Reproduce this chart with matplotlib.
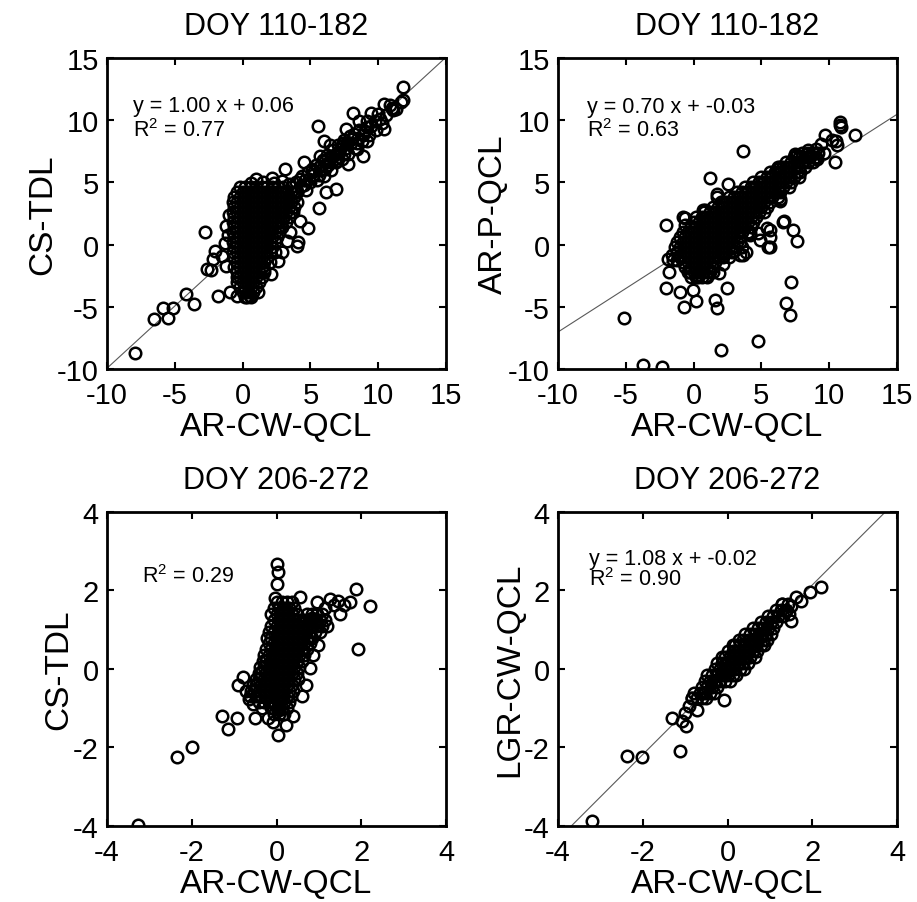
import numpy as np
import matplotlib.pyplot as plt

plt.rcParams['font.family'] = ['Liberation Sans', 'DejaVu Sans']
plt.rcParams['mathtext.fontset'] = 'custom'
plt.rcParams['mathtext.rm'] = 'Liberation Sans'
plt.rcParams['mathtext.it'] = 'Liberation Sans:italic'
plt.rcParams['axes.unicode_minus'] = False

###############################################################################
# panel texts / fits

titles = ['DOY 110-182', 'DOY 110-182', 'DOY 206-272', 'DOY 206-272']
xlabels = ['AR-CW-QCL', 'AR-CW-QCL', 'AR-CW-QCL', 'AR-CW-QCL']
ylabels = ['CS-TDL', 'AR-P-QCL', 'CS-TDL', 'LGR-CW-QCL']
lims = [(-10, 15), (-10, 15), (-4, 4), (-4, 4)]
ticks = [[-10, -5, 0, 5, 10, 15], [-10, -5, 0, 5, 10, 15],
         [-4, -2, 0, 2, 4], [-4, -2, 0, 2, 4]]
slopes = [1.00, 0.70, None, 1.08]
icpts = [0.06, -0.03, None, -0.02]
eqs = ['y = 1.00 x + 0.06', 'y = 0.70 x + -0.03', None, 'y = 1.08 x + -0.02']
r2s = ['R$^2$ = 0.77', 'R$^2$ = 0.63', 'R$^2$ = 0.29', 'R$^2$ = 0.90']

###############################################################################
# DOY 110-182, AR-CW-QCL vs CS-TDL

tl_sparse = [
    (-7.9, -8.7), (-6.5, -6.0), (-5.85, -5.1), (-5.5, -5.9), (-5.1, -5.1), (-4.2, -4.0),
    (-3.6, -4.8), (-1.8, -4.15), (-0.9, -3.8), (0.55, -4.1), (1.15, -3.85), (-0.45, -4.1),
    (0.3, -4.25), (2.1, -2.35), (1.55, -1.95), (-2.8, 1.0), (-2.05, -0.5), (-2.15, -1.15),
    (-2.65, -1.95), (-2.35, -2.05), (-1.2, -1.7), (-1.5, -0.9), (-1.3, 0.1), (-1.1, 0.8),
    (-1.2, 1.5), (-1.0, 2.4), (4.0, -0.1), (4.85, 1.35), (3.5, 1.0), (4.2, 1.9), (5.65, 2.9),
    (6.9, 4.5), (6.15, 4.25), (4.1, 0.2), (3.3, 0.3), (2.9, -0.6), (2.6, -1.3), (3.0, 2.1),
    (3.7, 2.6), (1.0, 5.3), (2.15, 5.35), (3.15, 6.1), (4.5, 6.6), (5.7, 7.15), (5.55, 9.55),
    (6.0, 8.35), (8.15, 10.6), (8.9, 7.15), (9.15, 8.35), (9.5, 10.55), (10.4, 9.25),
    (10.9, 11.2), (11.85, 11.6), (11.85, 12.7), (10.4, 11.3), (11.1, 10.8), (10.1, 10.1),
    (9.15, 9.45), (7.65, 9.3), (7.4, 8.2), (6.45, 8.0), (6.95, 6.7), (7.8, 6.5), (8.4, 7.7),
    (8.6, 9.9), (9.75, 9.9),
    (4.3, 4.7), (4.7, 4.4), (4.6, 5.2), (5.0, 5.0), (5.2, 5.6), (5.5, 5.2), (5.8, 6.0),
    (6.0, 5.5), (6.3, 6.4), (6.5, 6.0), (6.6, 7.0), (6.9, 6.6), (7.1, 7.4), (7.3, 6.9),
    (7.6, 7.8), (7.8, 7.3), (8.0, 8.2), (8.3, 7.8), (8.5, 8.6), (8.8, 8.3), (9.0, 9.1),
    (9.3, 8.8), (9.5, 9.5), (9.8, 9.2), (10.0, 10.5), (10.3, 9.8), (10.6, 10.4), (11.0, 11.0),
    (11.3, 10.9), (11.7, 11.5), (4.8, 5.8), (5.4, 6.4), (3.9, 5.0), (3.6, 4.6), (6.2, 7.2),
    (7.0, 8.0), (8.2, 8.9), (9.2, 9.9), (7.9, 8.7), (5.9, 6.8), (6.7, 7.6), (7.5, 8.4),
    (5.1, 6.1), (4.4, 5.5), (6.4, 6.6), (7.2, 7.7), (8.6, 9.2),
    (4.0, 4.2), (4.5, 4.8), (4.9, 5.3), (5.3, 5.9), (5.7, 6.3), (6.1, 6.7), (6.5, 7.1),
    (6.9, 7.3), (7.3, 7.9), (7.7, 8.2), (8.1, 8.5), (8.4, 8.2), (8.9, 8.8), (5.6, 5.6),
    (6.1, 6.1), (6.8, 6.9), (7.5, 7.3), (4.2, 5.3), (3.8, 4.2), (3.4, 4.9),
]
tl_core = [
    (0.6, 4.95), (1.5, 5.0), (2.3, 4.95), (2.9, 5.1),
    (-0.2, 4.6), (0.2, 4.6), (0.6, 4.6), (1.0, 4.6), (1.4, 4.6), (1.8, 4.6), (2.2, 4.6),
    (2.6, 4.6), (3.0, 4.6),
    (-0.4, 4.2), (0.0, 4.2), (0.4, 4.2), (0.8, 4.2), (1.2, 4.2), (1.6, 4.2), (2.0, 4.2),
    (2.4, 4.2), (2.8, 4.2), (3.2, 4.2), (3.6, 4.2), (4.0, 4.2),
    (-0.6, 3.8), (-0.2, 3.8), (0.2, 3.8), (0.6, 3.8), (1.0, 3.8), (1.4, 3.8), (1.8, 3.8),
    (2.2, 3.8), (2.6, 3.8), (3.0, 3.8), (3.4, 3.8), (3.8, 3.8),
    (-0.7, 3.4), (-0.4, 3.4), (0.0, 3.4), (0.4, 3.4), (0.8, 3.4), (1.2, 3.4), (1.6, 3.4),
    (2.0, 3.4), (2.4, 3.4), (2.8, 3.4), (3.2, 3.4), (3.6, 3.4), (4.0, 3.4),
    (-0.6, 3.0), (-0.2, 3.0), (0.2, 3.0), (0.6, 3.0), (1.0, 3.0), (1.4, 3.0), (1.8, 3.0),
    (2.2, 3.0), (2.6, 3.0), (3.0, 3.0), (3.4, 3.0), (3.8, 3.0),
    (-0.7, 2.6), (-0.4, 2.6), (0.0, 2.6), (0.4, 2.6), (0.8, 2.6), (1.2, 2.6), (1.6, 2.6),
    (2.0, 2.6), (2.4, 2.6), (2.8, 2.6), (3.2, 2.6), (3.6, 2.6),
    (-0.6, 2.2), (-0.2, 2.2), (0.2, 2.2), (0.6, 2.2), (1.0, 2.2), (1.4, 2.2), (1.8, 2.2),
    (2.2, 2.2), (2.6, 2.2), (3.0, 2.2), (3.4, 2.2),
    (-0.7, 1.8), (-0.4, 1.8), (0.0, 1.8), (0.4, 1.8), (0.8, 1.8), (1.2, 1.8), (1.6, 1.8),
    (2.0, 1.8), (2.4, 1.8), (2.8, 1.8), (3.2, 1.8),
    (-0.6, 1.4), (-0.2, 1.4), (0.2, 1.4), (0.6, 1.4), (1.0, 1.4), (1.4, 1.4), (1.8, 1.4),
    (2.2, 1.4), (2.6, 1.4), (2.9, 1.4),
    (-0.7, 1.0), (-0.4, 1.0), (0.0, 1.0), (0.4, 1.0), (0.8, 1.0), (1.2, 1.0), (1.6, 1.0),
    (2.0, 1.0), (2.4, 1.0), (2.7, 1.0),
    (-0.6, 0.6), (-0.2, 0.6), (0.2, 0.6), (0.6, 0.6), (1.0, 0.6), (1.4, 0.6), (1.8, 0.6),
    (2.2, 0.6), (2.5, 0.6),
    (-0.7, 0.2), (-0.4, 0.2), (0.0, 0.2), (0.4, 0.2), (0.8, 0.2), (1.2, 0.2), (1.6, 0.2),
    (2.0, 0.2), (2.4, 0.2),
    (-0.6, -0.2), (-0.2, -0.2), (0.2, -0.2), (0.6, -0.2), (1.0, -0.2), (1.4, -0.2),
    (1.8, -0.2), (2.2, -0.2),
    (-0.7, -0.6), (-0.4, -0.6), (0.0, -0.6), (0.4, -0.6), (0.8, -0.6), (1.2, -0.6),
    (1.6, -0.6), (2.0, -0.6), (2.4, -0.6),
    (-0.6, -1.0), (-0.2, -1.0), (0.2, -1.0), (0.6, -1.0), (1.0, -1.0), (1.4, -1.0),
    (1.8, -1.0),
    (-0.4, -1.4), (0.0, -1.4), (0.4, -1.4), (0.8, -1.4), (1.2, -1.4), (1.6, -1.4),
    (2.0, -1.4),
    (-0.6, -1.8), (-0.2, -1.8), (0.2, -1.8), (0.6, -1.8), (1.0, -1.8), (1.4, -1.8),
    (-0.4, -2.2), (0.0, -2.2), (0.4, -2.2), (0.8, -2.2), (1.2, -2.2), (1.6, -2.2),
    (-0.45, -2.6), (-0.2, -2.6), (0.2, -2.6), (0.6, -2.6), (1.0, -2.6), (1.4, -2.6),
    (-0.4, -3.0), (0.0, -3.0), (0.4, -3.0), (0.8, -3.0), (1.2, -3.0),
    (-0.2, -3.4), (0.2, -3.4), (0.6, -3.4), (1.0, -3.4),
    (0.0, -3.8), (0.4, -3.8), (0.8, -3.8),
    (0.2, -4.2), (0.6, -4.2),
]

###############################################################################
# DOY 110-182, AR-CW-QCL vs AR-P-QCL

tr_sparse = [
    (-5.15, -5.9), (3.65, 7.5), (1.2, 5.35), (2.55, 4.9), (1.7, 4.1), (-2.0, 1.55),
    (-0.65, 2.1), (0.7, 2.75), (6.35, 3.5), (6.7, 1.9), (7.35, 1.15), (7.6, 0.25), (5.6, 1.15),
    (5.6, -0.2), (4.9, 0.4), (4.15, 0.9), (3.65, -0.85), (3.4, 0.2), (7.2, -3.0), (6.85, -4.7),
    (7.1, -5.65), (-2.0, -3.5), (-1.0, -3.85), (-0.05, -3.65), (-0.7, -5.05), (0.2, -4.5),
    (1.6, -4.45), (1.7, -5.1), (2.45, -3.5), (1.9, -2.3), (1.45, -2.2), (-1.85, -2.2),
    (-1.25, -1.25), (0.35, -2.6), (-0.25, -2.2), (4.75, -7.75), (2.05, -8.45), (-3.75, -9.7),
    (-2.3, -9.85), (-1.6, -0.8), (-1.9, -1.2), (2.6, -1.0), (3.0, -0.5), (2.2, -1.6),
    (0.9, -2.5), (1.7, 3.85), (2.06, 3.45), (0.84, 2.77), (-0.76, 2.24), (-0.64, 1.57),
    (0.7, 2.1), (6.36, 3.7), (6.6, 1.83), (5.38, 1.3), (5.6, 0.63), (5.5, -0.17), (4.77, 0.9),
    (4.15, 0.77), (3.9, -0.57), (3.42, -0.84), (3.54, -0.17), (0.22, -2.45), (-1.5, -1.24),
    (10.8, 9.85), (10.9, 9.45), (11.9, 8.8), (9.7, 8.8), (10.55, 8.0), (10.4, 6.6), (7.6, 7.2),
    (9.05, 7.7), (8.6, 7.15), (7.85, 5.85), (6.35, 6.2), (10.2, 8.4), (9.4, 8.1), (8.4, 7.6),
    (7.47, 7.3), (10.5, 8.3), (10.8, 9.6), (9.07, 6.9), (6.12, 6.1),
]
tr_core = [
    (-0.2, -2.6), (0.2, -2.6), (0.6, -2.6), (1.0, -2.6),
    (-0.4, -2.2), (0.0, -2.2), (0.4, -2.2), (0.8, -2.2), (1.2, -2.2),
    (-0.6, -1.8), (-0.2, -1.8), (0.2, -1.8), (0.6, -1.8), (1.0, -1.8), (1.4, -1.8),
    (-0.8, -1.4), (-0.4, -1.4), (0.0, -1.4), (0.4, -1.4), (0.8, -1.4), (1.2, -1.4),
    (1.6, -1.4),
    (-1.0, -1.0), (-0.6, -1.0), (-0.2, -1.0), (0.2, -1.0), (0.6, -1.0), (1.0, -1.0),
    (1.4, -1.0), (1.8, -1.0), (2.2, -1.0),
    (-1.2, -0.6), (-0.8, -0.6), (-0.4, -0.6), (0.0, -0.6), (0.4, -0.6), (0.8, -0.6),
    (1.2, -0.6), (1.6, -0.6), (2.0, -0.6), (2.4, -0.6), (2.8, -0.6),
    (-1.4, -0.2), (-1.0, -0.2), (-0.6, -0.2), (-0.2, -0.2), (0.2, -0.2), (0.6, -0.2),
    (1.0, -0.2), (1.4, -0.2), (1.8, -0.2), (2.2, -0.2), (2.6, -0.2), (3.0, -0.2),
    (-1.2, 0.2), (-0.8, 0.2), (-0.4, 0.2), (0.0, 0.2), (0.4, 0.2), (0.8, 0.2), (1.2, 0.2),
    (1.6, 0.2), (2.0, 0.2), (2.4, 0.2), (2.8, 0.2), (3.2, 0.2),
    (-1.0, 0.6), (-0.6, 0.6), (-0.2, 0.6), (0.2, 0.6), (0.6, 0.6), (1.0, 0.6), (1.4, 0.6),
    (1.8, 0.6), (2.2, 0.6), (2.6, 0.6), (3.0, 0.6), (3.4, 0.6),
    (-0.8, 1.0), (-0.4, 1.0), (0.0, 1.0), (0.4, 1.0), (0.8, 1.0), (1.2, 1.0), (1.6, 1.0),
    (2.0, 1.0), (2.4, 1.0), (2.8, 1.0), (3.2, 1.0), (3.6, 1.0), (4.0, 1.0),
    (-0.2, 1.4), (0.2, 1.4), (0.6, 1.4), (1.0, 1.4), (1.4, 1.4), (1.8, 1.4), (2.2, 1.4),
    (2.6, 1.4), (3.0, 1.4), (3.4, 1.4), (3.8, 1.4), (4.2, 1.4),
    (0.0, 1.8), (0.4, 1.8), (0.8, 1.8), (1.2, 1.8), (1.6, 1.8), (2.0, 1.8), (2.4, 1.8),
    (2.8, 1.8), (3.2, 1.8), (3.6, 1.8), (4.0, 1.8), (4.4, 1.8),
    (0.2, 2.2), (0.6, 2.2), (1.0, 2.2), (1.4, 2.2), (1.8, 2.2), (2.2, 2.2), (2.6, 2.2),
    (3.0, 2.2), (3.4, 2.2), (3.8, 2.2), (4.2, 2.2), (4.6, 2.2),
    (0.8, 2.6), (1.2, 2.6), (1.6, 2.6), (2.0, 2.6), (2.4, 2.6), (2.8, 2.6), (3.2, 2.6),
    (3.6, 2.6), (4.0, 2.6), (4.4, 2.6), (4.8, 2.6), (5.2, 2.6),
    (1.4, 3.0), (1.8, 3.0), (2.2, 3.0), (2.6, 3.0), (3.0, 3.0), (3.4, 3.0), (3.8, 3.0),
    (4.2, 3.0), (4.6, 3.0), (5.0, 3.0), (5.4, 3.0),
    (2.0, 3.4), (2.4, 3.4), (2.8, 3.4), (3.2, 3.4), (3.6, 3.4), (4.0, 3.4), (4.4, 3.4),
    (4.8, 3.4), (5.2, 3.4), (5.6, 3.4),
    (2.6, 3.8), (3.0, 3.8), (3.4, 3.8), (3.8, 3.8), (4.2, 3.8), (4.6, 3.8), (5.0, 3.8),
    (5.4, 3.8), (5.8, 3.8), (6.2, 3.8),
    (3.2, 4.2), (3.6, 4.2), (4.0, 4.2), (4.4, 4.2), (4.8, 4.2), (5.2, 4.2), (5.6, 4.2),
    (6.0, 4.2), (6.4, 4.2),
    (3.8, 4.6), (4.2, 4.6), (4.6, 4.6), (5.0, 4.6), (5.4, 4.6), (5.8, 4.6), (6.2, 4.6),
    (6.6, 4.6), (7.0, 4.6),
    (4.4, 5.0), (4.8, 5.0), (5.2, 5.0), (5.6, 5.0), (6.0, 5.0), (6.4, 5.0), (6.8, 5.0),
    (7.2, 5.0),
    (5.0, 5.4), (5.4, 5.4), (5.8, 5.4), (6.2, 5.4), (6.6, 5.4), (7.0, 5.4), (7.4, 5.4),
    (7.8, 5.4),
    (5.6, 5.8), (6.0, 5.8), (6.4, 5.8), (6.8, 5.8), (7.2, 5.8), (7.6, 5.8),
    (6.2, 6.2), (6.6, 6.2), (7.0, 6.2), (7.4, 6.2), (7.8, 6.2), (8.2, 6.2),
    (6.8, 6.6), (7.2, 6.6), (7.6, 6.6), (8.0, 6.6), (8.4, 6.6), (8.8, 6.6),
    (7.4, 7.0), (7.8, 7.0), (8.2, 7.0), (8.6, 7.0), (9.0, 7.0),
    (8.0, 7.4), (8.4, 7.4), (8.8, 7.4), (9.2, 7.4), (9.6, 7.4),
]

###############################################################################
# DOY 206-272, AR-CW-QCL vs CS-TDL

bl_sparse = [
    (-3.28, -3.97), (-2.35, -2.23), (-2.0, -1.99), (-1.29, -1.21), (-1.14, -1.53),
    (-0.94, -1.25), (-0.5, -1.26), (-0.78, -0.21), (-0.9, -0.41), (-0.66, -0.76), (0.0, 2.67),
    (0.04, 2.46), (0.02, 2.17), (-0.04, 1.8), (0.55, 1.83), (0.95, 1.71), (1.26, 1.78),
    (1.46, 1.74), (1.73, 1.71), (1.87, 2.04), (2.2, 1.61), (1.92, 0.5), (1.5, 1.4),
    (0.83, 1.3), (0.99, 0.62), (0.79, 0.02), (0.69, -0.4), (0.04, -1.68), (0.22, -1.42),
    (-0.08, -1.36), (0.05, -1.05), (1.6, 1.62), (1.15, 1.55), (1.36, 1.62), (0.85, 0.35),
    (0.6, -0.7), (0.4, -1.2), (-0.2, -1.25), (-0.35, -1.0), (-0.55, -0.9), (-0.72, -0.55),
]
bl_core = [
    (0.0, 1.7), (0.12, 1.7), (0.24, 1.7), (0.36, 1.7),
    (-0.06, 1.55), (0.06, 1.55), (0.18, 1.55), (0.3, 1.55), (0.42, 1.55),
    (-0.12, 1.4), (0.0, 1.4), (0.12, 1.4), (0.24, 1.4), (0.36, 1.4), (0.48, 1.4),
    (0.72, 1.4), (0.84, 1.4), (0.96, 1.4), (1.08, 1.4),
    (-0.06, 1.25), (0.06, 1.25), (0.18, 1.25), (0.3, 1.25), (0.42, 1.25), (0.54, 1.25),
    (0.66, 1.25), (0.78, 1.25), (0.9, 1.25), (1.02, 1.25), (1.14, 1.25),
    (-0.12, 1.1), (0.0, 1.1), (0.12, 1.1), (0.24, 1.1), (0.36, 1.1), (0.48, 1.1),
    (0.6, 1.1), (0.72, 1.1), (0.84, 1.1), (0.96, 1.1), (1.08, 1.1), (1.2, 1.1),
    (-0.18, 0.95), (-0.06, 0.95), (0.06, 0.95), (0.18, 0.95), (0.3, 0.95), (0.42, 0.95),
    (0.54, 0.95), (0.66, 0.95), (0.78, 0.95), (0.9, 0.95), (1.02, 0.95),
    (-0.22, 0.8), (-0.12, 0.8), (0.0, 0.8), (0.12, 0.8), (0.24, 0.8), (0.36, 0.8),
    (0.48, 0.8), (0.6, 0.8), (0.72, 0.8), (0.84, 0.8),
    (-0.18, 0.65), (-0.06, 0.65), (0.06, 0.65), (0.18, 0.65), (0.3, 0.65), (0.42, 0.65),
    (0.54, 0.65), (0.66, 0.65), (0.78, 0.65),
    (-0.24, 0.5), (-0.12, 0.5), (0.0, 0.5), (0.12, 0.5), (0.24, 0.5), (0.36, 0.5),
    (0.48, 0.5), (0.6, 0.5), (0.72, 0.5),
    (-0.3, 0.35), (-0.18, 0.35), (-0.06, 0.35), (0.06, 0.35), (0.18, 0.35), (0.3, 0.35),
    (0.42, 0.35), (0.54, 0.35), (0.66, 0.35),
    (-0.32, 0.2), (-0.24, 0.2), (-0.12, 0.2), (0.0, 0.2), (0.12, 0.2), (0.24, 0.2),
    (0.36, 0.2), (0.48, 0.2), (0.6, 0.2),
    (-0.38, 0.05), (-0.3, 0.05), (-0.18, 0.05), (-0.06, 0.05), (0.06, 0.05), (0.18, 0.05),
    (0.3, 0.05), (0.42, 0.05), (0.54, 0.05),
    (-0.42, -0.1), (-0.36, -0.1), (-0.24, -0.1), (-0.12, -0.1), (0.0, -0.1), (0.12, -0.1),
    (0.24, -0.1), (0.36, -0.1), (0.48, -0.1),
    (-0.48, -0.25), (-0.42, -0.25), (-0.3, -0.25), (-0.18, -0.25), (-0.06, -0.25),
    (0.06, -0.25), (0.18, -0.25), (0.3, -0.25), (0.42, -0.25), (0.5, -0.25),
    (-0.55, -0.4), (-0.48, -0.4), (-0.36, -0.4), (-0.24, -0.4), (-0.12, -0.4), (0.0, -0.4),
    (0.12, -0.4), (0.24, -0.4), (0.36, -0.4),
    (-0.6, -0.55), (-0.54, -0.55), (-0.42, -0.55), (-0.3, -0.55), (-0.18, -0.55),
    (-0.06, -0.55), (0.06, -0.55), (0.18, -0.55), (0.3, -0.55), (0.38, -0.55),
    (-0.62, -0.7), (-0.48, -0.7), (-0.36, -0.7), (-0.24, -0.7), (-0.12, -0.7), (0.0, -0.7),
    (0.12, -0.7), (0.24, -0.7), (0.34, -0.7),
    (-0.42, -0.85), (-0.3, -0.85), (-0.18, -0.85), (-0.06, -0.85), (0.06, -0.85),
    (0.18, -0.85), (0.3, -0.85),
    (-0.12, -1.0), (0.0, -1.0), (0.12, -1.0), (0.24, -1.0),
    (-0.06, -1.15), (0.06, -1.15), (0.18, -1.15),
]

###############################################################################
# DOY 206-272, AR-CW-QCL vs LGR-CW-QCL

br_sparse = [
    (-3.2, -3.87), (-2.36, -2.22), (-2.01, -2.25), (-1.13, -2.08), (-1.32, -1.26),
    (-1.07, -1.32), (-0.97, -1.46), (-0.71, -1.04), (-0.84, -0.75), (-0.08, -0.78),
    (0.66, 0.3), (1.49, 1.21), (1.37, 1.49), (1.61, 1.83), (1.73, 1.74), (1.94, 1.95),
    (2.2, 2.1), (1.29, 1.66), (1.5, 1.6), (1.45, 1.4), (-1.0, -1.12), (-0.9, -0.95),
]
br_core = [
    (-0.84, -0.75), (-0.72, -0.75), (-0.6, -0.75), (-0.5, -0.75),
    (-0.78, -0.6), (-0.66, -0.6), (-0.54, -0.6), (-0.42, -0.6), (-0.32, -0.6),
    (-0.6, -0.45), (-0.48, -0.45), (-0.36, -0.45), (-0.24, -0.45),
    (-0.54, -0.3), (-0.42, -0.3), (-0.3, -0.3), (-0.18, -0.3), (-0.06, -0.3), (0.06, -0.3),
    (-0.48, -0.15), (-0.36, -0.15), (-0.24, -0.15), (-0.12, -0.15), (0.0, -0.15),
    (0.12, -0.15), (0.2, -0.15),
    (-0.3, 0.0), (-0.18, 0.0), (-0.06, 0.0), (0.06, 0.0), (0.18, 0.0), (0.3, 0.0),
    (0.38, 0.0),
    (-0.24, 0.15), (-0.12, 0.15), (0.0, 0.15), (0.12, 0.15), (0.24, 0.15), (0.36, 0.15),
    (0.48, 0.15),
    (-0.14, 0.3), (-0.06, 0.3), (0.06, 0.3), (0.18, 0.3), (0.3, 0.3), (0.42, 0.3),
    (0.54, 0.3),
    (0.0, 0.45), (0.12, 0.45), (0.24, 0.45), (0.36, 0.45), (0.48, 0.45), (0.6, 0.45),
    (0.7, 0.45),
    (0.12, 0.6), (0.18, 0.6), (0.3, 0.6), (0.42, 0.6), (0.54, 0.6), (0.66, 0.6),
    (0.78, 0.6), (0.86, 0.6),
    (0.28, 0.75), (0.36, 0.75), (0.48, 0.75), (0.6, 0.75), (0.72, 0.75), (0.84, 0.75),
    (0.94, 0.75),
    (0.42, 0.9), (0.54, 0.9), (0.66, 0.9), (0.78, 0.9), (0.9, 0.9), (1.02, 0.9),
    (0.6, 1.05), (0.72, 1.05), (0.84, 1.05), (0.96, 1.05), (1.08, 1.05),
    (0.78, 1.2), (0.9, 1.2), (1.02, 1.2), (1.14, 1.2),
    (0.96, 1.35), (1.08, 1.35), (1.2, 1.35), (1.3, 1.35),
    (1.14, 1.5), (1.26, 1.5), (1.38, 1.5),
    (1.28, 1.65), (1.42, 1.65),
]

###############################################################################

panels = [tl_sparse + tl_core, tr_sparse + tr_core,
          bl_sparse + bl_core, br_sparse + br_core]

# axes boxes in figure fractions (left, bottom, width, height)
boxes = [(0.1167, 0.5903, 0.3697, 0.3444), (0.6085, 0.5903, 0.3697, 0.3444),
         (0.1167, 0.0842, 0.3697, 0.3477), (0.6085, 0.0842, 0.3697, 0.3477)]
eq_pos = [(0.078, 0.830), (0.085, 0.826), None, (0.091, 0.834)]
r2_pos = [(0.078, 0.750), (0.085, 0.748), (0.102, 0.776), (0.091, 0.768)]

fig = plt.figure(figsize=(9.17, 9.03), dpi=100)

for i in range(4):
    ax = fig.add_axes(boxes[i])
    pts = np.array(panels[i])
    lo, hi = lims[i]
    if slopes[i] is not None:
        xx = np.array([lo, hi])
        ax.plot(xx, slopes[i]*xx+icpts[i], color='0.35', lw=0.8)
    ax.plot(pts[:, 0], pts[:, 1], 'o', mfc='none', mec='k', ms=8.3, mew=1.8)
    ax.set_xlim(lo, hi)
    ax.set_ylim(lo, hi)
    ax.set_xticks(ticks[i])
    ax.set_yticks(ticks[i])
    ax.tick_params(direction='in', top=True, right=True, length=5, width=1.5,
                   labelsize=21)
    ax.tick_params(axis='x', pad=9)
    ax.tick_params(axis='y', pad=6)
    for s in ax.spines.values():
        s.set_linewidth(2)
    ax.set_title(titles[i], fontsize=22, pad=17)
    ax.set_xlabel(xlabels[i], fontsize=24, labelpad=1)
    ax.set_ylabel(ylabels[i], fontsize=24, labelpad=-1)
    if eqs[i] is not None:
        ax.text(eq_pos[i][0], eq_pos[i][1], eqs[i], transform=ax.transAxes,
                fontsize=15.5, va='baseline')
    ax.text(r2_pos[i][0], r2_pos[i][1], r2s[i], transform=ax.transAxes,
            fontsize=15.5, va='baseline')

fig.savefig('out.png', dpi=100)
